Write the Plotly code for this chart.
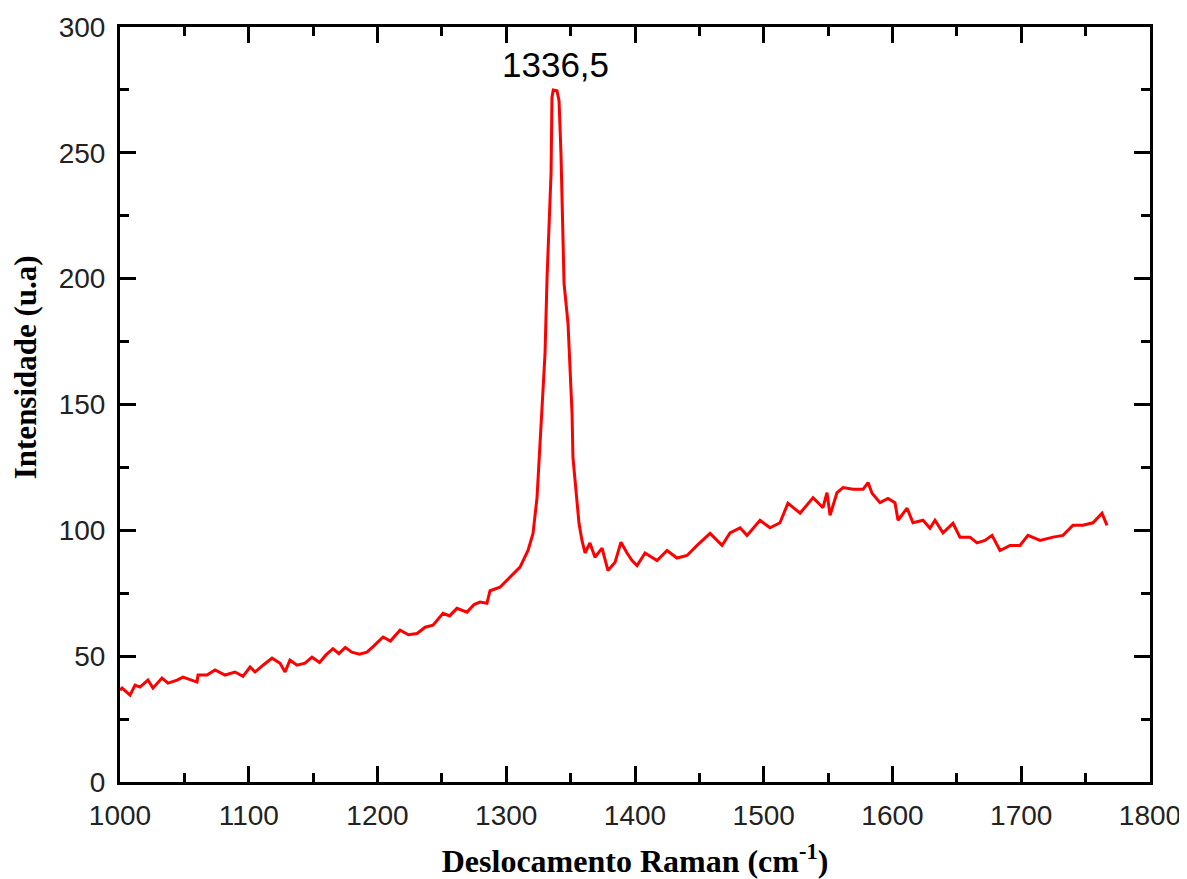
import plotly.graph_objects as go

# Raman spectrum
raman_shift = [
    1000, 1001.6, 1007.8, 1011.7, 1015.5, 1021.7, 1025.6, 1032.6, 1037.3, 1044.3,
    1048.9, 1059.8, 1060.6, 1067.6, 1073.8, 1081.6, 1089.3, 1095.5, 1101, 1104.9,
    1111.1, 1118.1, 1124.3, 1128.2, 1132, 1137.5, 1143.7, 1149.1, 1155, 1160,
    1165.4, 1170, 1175, 1180, 1186, 1191.8, 1197, 1204.3, 1210, 1217.5,
    1224, 1230.7, 1237, 1243.1, 1250.9, 1256, 1261.7, 1269.5, 1275, 1279.6,
    1285, 1287.4, 1295.1, 1302.9, 1310.7, 1316.9, 1320.8, 1323.9, 1326.2, 1328.5,
    1330.1, 1331.7, 1333.2, 1334.8, 1335.5, 1336.5, 1339.4, 1341, 1342.5, 1343.3,
    1344.9, 1348, 1349.5, 1351.1, 1351.8, 1355, 1356.5, 1358.8, 1361.2, 1365,
    1368.9, 1374.4, 1379, 1384.5, 1389.1, 1393.8, 1397.7, 1401.6, 1407.8, 1417.1,
    1424.9, 1432.6, 1440.4, 1448.2, 1458.3, 1467.6, 1473.8, 1481.6, 1487, 1497.1,
    1504.9, 1512.6, 1518.8, 1528.2, 1538.3, 1546, 1549.1, 1551.5, 1556.9, 1561.6,
    1569.3, 1577.1, 1581, 1584.1, 1590.3, 1596.5, 1601.9, 1604.3, 1611.3, 1615.9,
    1623.7, 1629.1, 1633, 1639.2, 1647, 1652.4, 1660.2, 1665.6, 1671.8, 1677.3,
    1683.5, 1691.3, 1699, 1705.2, 1714.6, 1724.7, 1732.4, 1740.2, 1747.9, 1755.7,
    1762.7, 1766.6,
]
intensity = [
    36.5, 37.3, 34.5, 38.5, 37.7, 40.5, 37.3, 41.3, 39.3, 40.5,
    41.7, 39.7, 42.5, 42.5, 44.5, 42.5, 43.7, 42.0, 45.7, 43.7,
    46.4, 49.2, 47.2, 43.7, 48.4, 46.4, 47.2, 49.6, 47.5, 50.5,
    53.0, 51.0, 53.5, 51.6, 50.8, 51.6, 54.0, 57.6, 56.0, 60.3,
    58.5, 59.0, 61.5, 62.3, 67.0, 66.0, 69.0, 67.5, 70.5, 71.5,
    71.0, 76.0, 77.4, 81.4, 85.4, 92.0, 98.8, 113.0, 133.0, 151.6,
    170.0, 200.5, 222.0, 242.0, 272.0, 275.0, 274.7, 270.7, 249.7, 227.0,
    198.0, 182.0, 164.7, 146.5, 129.0, 113.0, 102.8, 96.0, 91.0, 95.0,
    89.3, 92.9, 84.0, 87.3, 95.3, 91.0, 88.0, 86.0, 91.0, 88.0,
    92.0, 89.0, 90.0, 94.0, 98.8, 94.0, 99.0, 101.0, 98.0, 104.0,
    101.0, 103.0, 110.8, 106.8, 113.0, 109.0, 115.0, 106.0, 115.0, 117.0,
    116.3, 116.3, 119.0, 114.7, 111.0, 112.7, 111.0, 104.0, 108.8, 103.0,
    104.0, 100.8, 104.0, 99.0, 102.8, 97.3, 97.3, 95.0, 96.0, 98.0,
    92.0, 94.0, 94.0, 98.0, 96.0, 97.3, 98.0, 102.0, 102.0, 103.0,
    106.8, 102.0,
]

peak_label = "1336,5"
peak_label_x = 1338
peak_label_y = 285

x_title = "<b>Deslocamento Raman (cm<sup>-1</sup>)</b>"
y_title = "<b>Intensidade (u.a)</b>"

x_ticks = [1000, 1100, 1200, 1300, 1400, 1500, 1600, 1700, 1800]
y_ticks = [0, 50, 100, 150, 200, 250, 300]

fig = go.Figure()
fig.add_trace(go.Scatter(
    x=raman_shift, y=intensity, mode="lines",
    line=dict(color="#FF0000", width=3),
    showlegend=False,
))

fig.add_annotation(
    x=peak_label_x, y=peak_label_y, text=peak_label, showarrow=False,
    font=dict(family="Liberation Sans, Arial", size=35, color="black"),
    xanchor="center", yanchor="middle",
)

# y-axis title placed as a rotated annotation (slightly above centre, as in the reference)
fig.add_annotation(
    xref="paper", yref="paper", x=-0.0915, y=0.549, text=y_title,
    showarrow=False, textangle=-90, xanchor="center", yanchor="middle",
    font=dict(family="Liberation Serif, Times New Roman", size=31, color="black"),
)

axis_common = dict(
    showline=True, linecolor="black", linewidth=3, mirror="allticks",
    ticks="inside", ticklen=16, tickwidth=3, tickcolor="black",
    showgrid=False, zeroline=False, automargin=False,
    tickfont=dict(family="Liberation Sans, Arial", size=28, color="#222222"),
)

fig.update_xaxes(
    range=[1000, 1800], tickvals=x_ticks, ticktext=[str(v) for v in x_ticks],
    minor=dict(dtick=50, ticks="inside", ticklen=9, tickwidth=3, tickcolor="black", showgrid=False),
    title=dict(text=x_title,
               font=dict(family="Liberation Serif, Times New Roman", size=32, color="black"),
               standoff=22),
    ticklabelstandoff=6,
    **axis_common,
)
fig.update_yaxes(
    range=[0, 300], tickvals=y_ticks, ticktext=[str(v) for v in y_ticks],
    minor=dict(dtick=25, ticks="inside", ticklen=9, tickwidth=3, tickcolor="black", showgrid=False),
    ticklabelstandoff=6,
    **axis_common,
)

fig.update_layout(
    width=1179, height=871,
    margin=dict(l=112, r=37, t=19, b=97),
    paper_bgcolor="white", plot_bgcolor="white",
)

fig.write_html("out.html")
